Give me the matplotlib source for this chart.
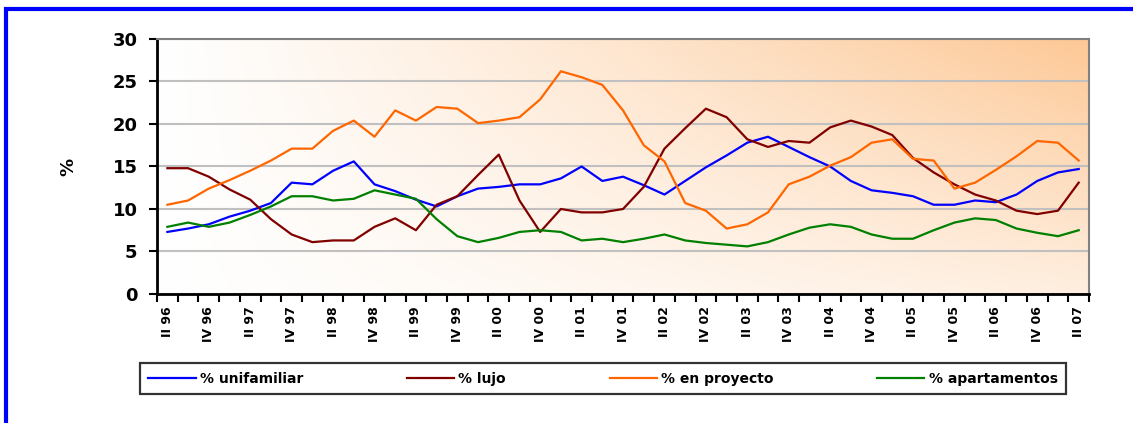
import numpy as np
import matplotlib
matplotlib.use('Agg')
import matplotlib.pyplot as plt
from matplotlib.patches import Rectangle
from matplotlib.lines import Line2D

plt.rcParams['font.family'] = ['DejaVu Sans']

# quarters II 96 .. II 07
quarters = ['II', 'III', 'IV', 'I'] * 12
years = []
for y in range(96, 108):
    years += [y, y, y, y + 1]
labels = ['%s %02d' % (q, y % 100) for q, y in zip(quarters, years)][:45]

unifamiliar = [7.3, 7.7, 8.2, 9.1, 9.8, 10.7, 13.1, 12.9, 14.5, 15.6, 12.9, 12.1, 11.1, 10.3,
               11.5, 12.4, 12.6, 12.9, 12.9, 13.6, 15.0, 13.3, 13.8, 12.8, 11.7, 13.3, 14.9,
               16.3, 17.8, 18.5, 17.3, 16.1, 15.0, 13.3, 12.2, 11.9, 11.5, 10.5, 10.5, 11.0,
               10.8, 11.7, 13.3, 14.3, 14.7]
lujo = [14.8, 14.8, 13.8, 12.3, 11.1, 8.8, 7.0, 6.1, 6.3, 6.3, 7.9, 8.9, 7.5, 10.5, 11.5,
        14.0, 16.4, 11.0, 7.3, 10.0, 9.6, 9.6, 10.0, 12.6, 17.1, 19.5, 21.8, 20.8, 18.2,
        17.3, 18.0, 17.8, 19.6, 20.4, 19.7, 18.7, 16.0, 14.3, 12.9, 11.7, 11.0, 9.8, 9.4,
        9.8, 13.1]
en_proyecto = [10.5, 11.0, 12.4, 13.4, 14.5, 15.7, 17.1, 17.1, 19.2, 20.4, 18.5, 21.6, 20.4,
               22.0, 21.8, 20.1, 20.4, 20.8, 22.9, 26.2, 25.5, 24.6, 21.6, 17.5, 15.6, 10.7,
               9.8, 7.7, 8.2, 9.6, 12.9, 13.8, 15.1, 16.1, 17.8, 18.2, 15.9, 15.7, 12.4, 13.1,
               14.6, 16.2, 18.0, 17.8, 15.7]
apartamentos = [7.9, 8.4, 7.9, 8.4, 9.3, 10.3, 11.5, 11.5, 11.0, 11.2, 12.2, 11.7, 11.2, 8.8,
                6.8, 6.1, 6.6, 7.3, 7.5, 7.3, 6.3, 6.5, 6.1, 6.5, 7.0, 6.3, 6.0, 5.8, 5.6, 6.1,
                7.0, 7.8, 8.2, 7.9, 7.0, 6.5, 6.5, 7.5, 8.4, 8.9, 8.7, 7.7, 7.2, 6.8, 7.5]

series = [('% unifamiliar', unifamiliar, '#0000FF'),
          ('% lujo', lujo, '#800000'),
          ('% en proyecto', en_proyecto, '#FF6600'),
          ('% apartamentos', apartamentos, '#008000')]

fig = plt.figure(figsize=(11.33, 4.23), dpi=100)
ax = fig.add_axes([0.1386, 0.305, 0.8226, 0.6028])

# background gradient, white bottom-left to peach top-right
gx, gy = np.meshgrid(np.linspace(0, 1, 300), np.linspace(1, 0, 100))
t = np.clip(gx ** 1.1 * (0.3 + 0.7 * gy), 0, 1)
c0 = np.array([1.0, 1.0, 1.0])
c1 = np.array([253, 200, 150]) / 255.0
img = c0 + (c1 - c0) * t[..., None]
ax.imshow(img, extent=[0, 1, 0, 1], transform=ax.transAxes, aspect='auto', zorder=-1)

x = np.arange(len(labels))
for name, vals, col in series:
    ax.plot(x, vals, color=col, lw=1.6, label=name, zorder=3)

ax.set_xlim(-0.5, len(labels) - 0.5)
ax.set_ylim(0, 30)
ax.set_yticks(range(0, 31, 5))
ax.yaxis.grid(True, color='#c0c0c0', lw=1.5)
ax.set_axisbelow(True)

ax.set_xticks(x[::2])
ax.set_xticklabels(labels[::2], rotation=90, fontsize=9, fontweight='bold')
ax.set_xticks(np.arange(-0.5, len(labels), 1), minor=True)
ax.tick_params(axis='x', which='major', length=0, pad=9)
ax.tick_params(axis='x', which='minor', length=6, width=1.5, color='black')
ax.tick_params(axis='y', length=6, width=1.5, pad=8, labelsize=13)
for lab in ax.get_yticklabels():
    lab.set_fontweight('bold')

for s in ['left', 'bottom']:
    ax.spines[s].set_linewidth(2)
    ax.spines[s].set_color('black')
for s in ['top', 'right']:
    ax.spines[s].set_linewidth(1.5)
    ax.spines[s].set_color('#808080')

ax.set_ylabel('%', fontsize=13, fontweight='bold')
ax.yaxis.set_label_coords(-0.085, 0.5)

handles = [Line2D([], [], color=c, lw=1.6) for _, _, c in series]
leg = fig.legend(handles, [n for n, _, _ in series], ncol=4, mode='expand',
                 bbox_to_anchor=(140 / 1133, 1 - 399 / 423, 926 / 1133, 41 / 423),
                 loc='center', frameon=True, fancybox=False, edgecolor='black',
                 prop={'weight': 'bold', 'size': 10}, handlelength=3.4,
                 handletextpad=0.3, borderpad=0.6, borderaxespad=0)
leg.get_frame().set_linewidth(1.6)

# blue frame around the picture
fig.patches.append(Rectangle((6 / 1133, -0.2), 1.5, 1 - 9 / 423 + 0.2, transform=fig.transFigure,
                             fill=False, edgecolor='#0000FF', lw=3, clip_on=False))

fig.savefig('out.png', dpi=100)
